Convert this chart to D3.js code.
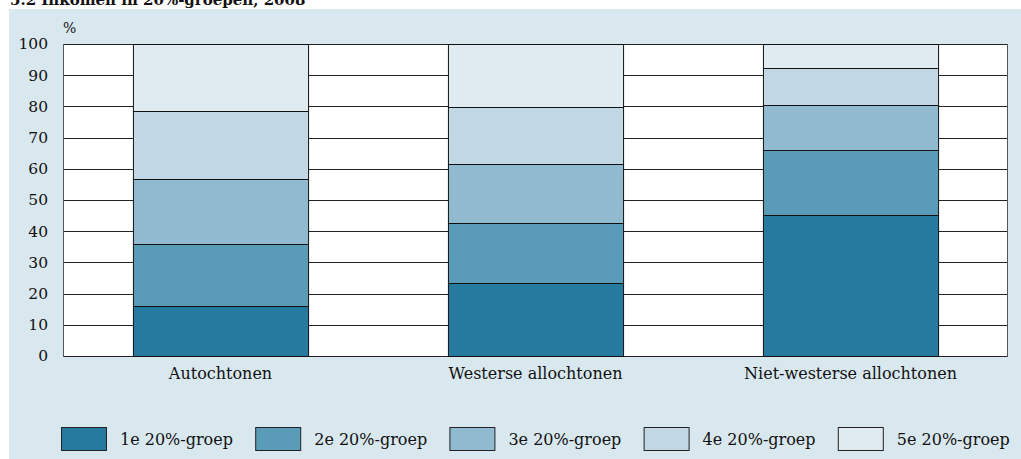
<!DOCTYPE html>
<html><head><meta charset="utf-8">
<script src="https://cdn.jsdelivr.net/npm/d3@7/dist/d3.min.js"></script>
<style>
html,body{margin:0;padding:0;background:#fff;}
svg{display:block;}
text{font-family:"DejaVu Serif",serif;fill:#111;}
</style></head>
<body>
<svg id="chart" width="1021" height="459"></svg>
<script>
const title = "5.2 Inkomen in 20%-groepen, 2008";
const categories = ["Autochtonen", "Westerse allochtonen", "Niet-westerse allochtonen"];
const seriesNames = ["1e 20%-groep", "2e 20%-groep", "3e 20%-groep", "4e 20%-groep", "5e 20%-groep"];
const groep1 = [16.0, 23.4, 45.1];
const groep2 = [20.0, 19.2, 20.9];
const groep3 = [20.8, 19.0, 14.5];
const groep4 = [21.6, 18.3, 11.7];
const groep5 = [21.6, 20.1, 7.8];
const yTicks = [0, 10, 20, 30, 40, 50, 60, 70, 80, 90, 100];
const colors = ["#26799f", "#5a9bb8", "#8fbacf", "#c1d8e4", "#e0ebf1"];

const seriesVals = [groep1, groep2, groep3, groep4, groep5];
const table = categories.map((c, i) => {
  const o = {cat: c};
  seriesNames.forEach((s, j) => o[s] = seriesVals[j][i]);
  return o;
});

const svg = d3.select("#chart");
const pL = 63, pR = 1008, pT = 44, pB = 356;

svg.append("rect").attr("x", 9).attr("y", 9).attr("width", 1012).attr("height", 450).attr("fill", "#d9e7ef");
svg.append("text").attr("x", 10).attr("y", 5).attr("font-weight", "bold").attr("font-size", 15).text(title);

const x = d3.scaleBand().domain(categories).range([pL, pR]).paddingInner(0.444).paddingOuter(0.222);
const y = d3.scaleLinear().domain([0, 100]).range([pB, pT]);

svg.append("rect").attr("x", pL).attr("y", pT).attr("width", pR - pL).attr("height", pB - pT).attr("fill", "#fff");

// gridlines
svg.append("g").selectAll("line").data(yTicks).join("line")
  .attr("x1", pL).attr("x2", pR)
  .attr("y1", d => Math.round(y(d)) + 0.5).attr("y2", d => Math.round(y(d)) + 0.5)
  .attr("stroke", "#222").attr("stroke-width", 1);

// y axis
const yAxis = svg.append("g").attr("transform", `translate(${pL},0)`)
  .call(d3.axisLeft(y).tickValues(yTicks).tickSize(0).tickPadding(15));
yAxis.select(".domain").remove();
yAxis.selectAll("text").attr("font-family", "DejaVu Serif").attr("font-size", 15.5).attr("fill", "#111");

svg.append("text").attr("x", 63).attr("y", 33).attr("font-size", 14).text("%");

// frame sides
svg.append("line").attr("x1", pL + 0.5).attr("x2", pL + 0.5).attr("y1", pT).attr("y2", pB + 1).attr("stroke", "#555");
svg.append("line").attr("x1", pR - 0.5).attr("x2", pR - 0.5).attr("y1", pT).attr("y2", pB + 1).attr("stroke", "#555");

// stacked bars
const stack = d3.stack().keys(seriesNames)(table);
svg.append("g").selectAll("g").data(stack).join("g")
  .attr("fill", (d, i) => colors[i])
  .selectAll("rect").data(d => d).join("rect")
  .attr("x", d => x(d.data.cat) + 0.5)
  .attr("width", x.bandwidth())
  .attr("y", d => Math.round(y(d[1])) + 0.5)
  .attr("height", d => Math.round(y(d[0])) - Math.round(y(d[1])))
  .attr("stroke", "#111").attr("stroke-width", 1);

// x axis
const xAxis = svg.append("g").attr("transform", `translate(0,${pB})`)
  .call(d3.axisBottom(x).tickSize(0).tickPadding(12));
xAxis.select(".domain").remove();
xAxis.selectAll("text").attr("font-family", "DejaVu Serif").attr("font-size", 16).attr("fill", "#111");

// legend
const lg = svg.append("g").selectAll("g").data(seriesNames).join("g")
  .attr("transform", (d, i) => `translate(${61 + i * 194.2},427)`);
lg.append("rect").attr("x", 0.5).attr("y", 0.5).attr("width", 45).attr("height", 23)
  .attr("fill", (d, i) => colors[i]).attr("stroke", "#222");
lg.append("text").attr("x", 59).attr("y", 18).attr("font-size", 16).text(d => d);
</script>
</body></html>
